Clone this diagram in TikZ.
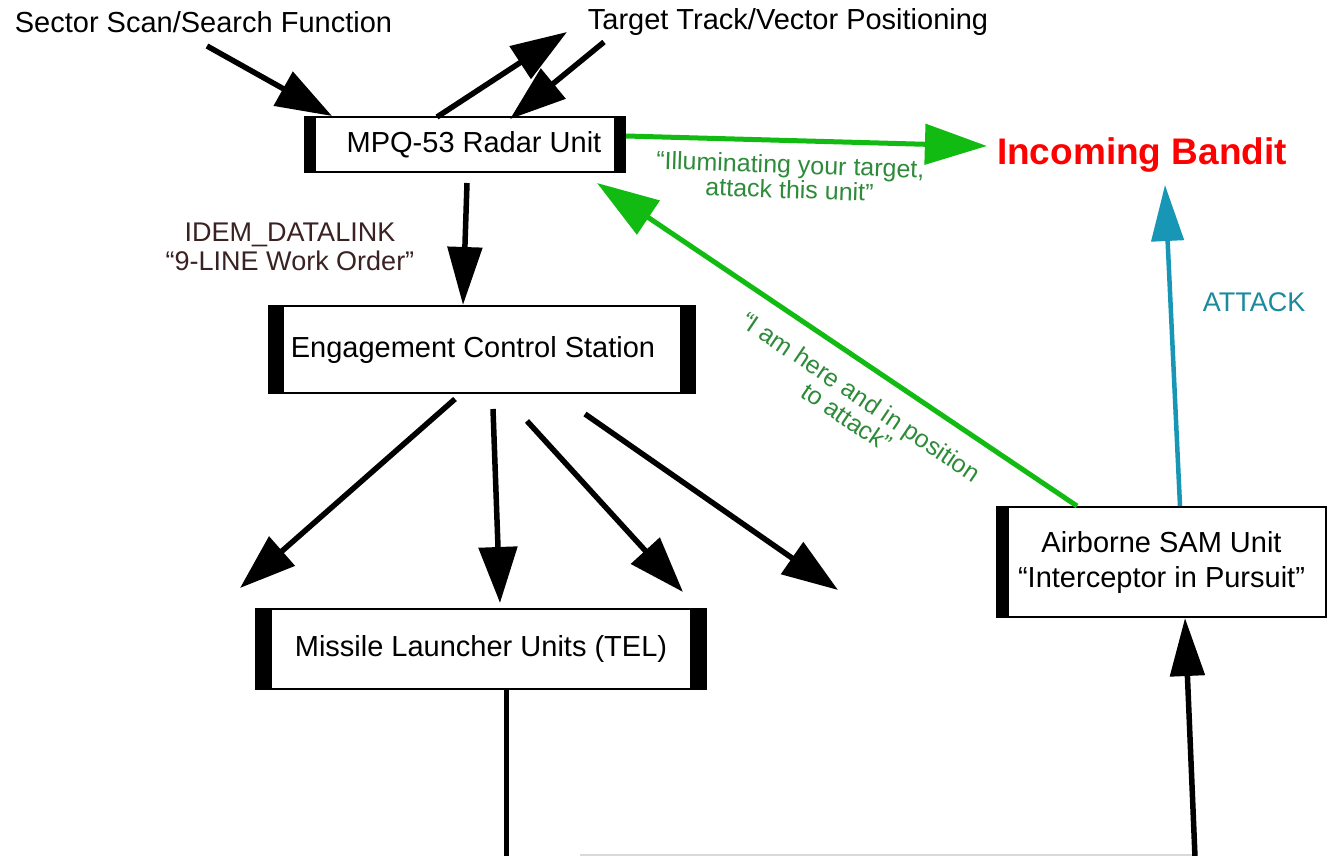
\documentclass[tikz,border=0pt]{standalone}
\usepackage{fontspec}
\setmainfont{Liberation Sans}
\usetikzlibrary{arrows.meta}
\definecolor{arrowgreen}{HTML}{11BB11}
\definecolor{textgreen}{HTML}{2E8B3A}
\definecolor{attackblue}{HTML}{1797B5}
\definecolor{attacktext}{HTML}{1B8A9C}
\definecolor{idembrown}{HTML}{3A2222}
\definecolor{banditred}{HTML}{FF0000}
\begin{document}
\begin{tikzpicture}[x=1pt,y=-1pt,
  lbl/.style={inner sep=0pt, font=\fontsize{29}{35}\selectfont},
  box/.style={draw, line width=2pt, fill=white, inner sep=0pt, align=center, font=\fontsize{29}{35}\selectfont},
  blk/.style={line width=5.5pt, -{Triangle[length=56pt,width=38pt]}},
  blklong/.style={line width=5.5pt, -{Triangle[length=58pt,width=34pt]}},
  grn/.style={arrowgreen, line width=5pt, -{Triangle[length=62pt,width=40pt]}},
  tealarrow/.style={attackblue, line width=4.5pt, -{Triangle[length=56pt,width=32pt]}},
  grnlbl/.style={textgreen, inner sep=0pt, align=center, font=\fontsize{25}{25}\selectfont}
]
\useasboundingbox (0,0) rectangle (1328,856);
\fill[white] (0,0) rectangle (1328,856);

% boxes
\node[box, minimum width=320pt, minimum height=55pt] (radar) at (465,144.5) {\hspace*{18pt}MPQ-53 Radar Unit};
\node[box, minimum width=426pt, minimum height=87pt] (ecs) at (482,349.5) {Engagement Control Station\hspace*{18pt}};
\node[box, minimum width=450pt, minimum height=80pt] (missile) at (481,649) {\raisebox{7pt}{Missile Launcher Units (TEL)}};
\node[box, minimum width=329pt, minimum height=110pt] (air) at (1161.5,562) {Airborne SAM Unit\\“Interceptor in Pursuit”};

% thick side bars
\fill (radar.north west) rectangle ([xshift=12pt]radar.south west);
\fill (radar.north east) rectangle ([xshift=-12pt]radar.south east);
\fill (ecs.north west) rectangle ([xshift=16pt]ecs.south west);
\fill (ecs.north east) rectangle ([xshift=-16pt]ecs.south east);
\fill (missile.north west) rectangle ([xshift=17pt]missile.south west);
\fill (missile.north east) rectangle ([xshift=-17pt]missile.south east);
\fill (air.north west) rectangle ([xshift=13pt]air.south west);

% labels
\node[lbl] (sector) at (203.5,22) {Sector Scan/Search Function};
\node[lbl] (target) at (788,22) {Target Track/Vector Positioning};
\node[inner sep=0pt, text=banditred, font=\fontsize{37}{40}\selectfont\bfseries] (bandit) at (1142,155) {Incoming Bandit};
\node[inner sep=0pt, text=idembrown, align=center, font=\fontsize{27}{29}\selectfont] (idem) at (290,247) {IDEM\_DATALINK\\“9-LINE Work Order”};
\node[grnlbl, rotate=-2] (illum) at (790,177) {“Illuminating your target,\\attack this unit”};
\node[grnlbl, rotate=-34] (here) at (854,407) {“I am here and in position\\to attack”};
\node[inner sep=0pt, text=attacktext, font=\fontsize{27}{30}\selectfont] (attack) at (1254,302) {ATTACK};

% free ends
\coordinate (sstart) at (207,46);
\coordinate (tend) at (567,32);
\coordinate (tstart) at (604,42);
\coordinate (f1) at (240,588);
\coordinate (f2) at (500,603);
\coordinate (f3) at (683,592);
\coordinate (f4) at (838,590);
\coordinate (mbot) at (506,857);
\coordinate (abot) at (1195,857);
\coordinate (gl) at (580,855);
\coordinate (gr) at (1192,855);
\coordinate (gtip) at (597,183);
\coordinate (ttip) at (1165,185);

% top arrows
\draw[blk] (sstart) -- ([xshift=28pt]radar.north west);
\draw[blk] ([xshift=-28pt,yshift=-1pt]radar.north) -- (tend);
\draw[blk] (tstart) -- ([xshift=45pt,yshift=-3pt]radar.north);

% radar to ECS
\draw[blklong] ([xshift=2pt,yshift=-10pt]radar.south) -- ([xshift=-19pt]ecs.north);

% ECS fan
\draw[blk] ([xshift=-27pt,yshift=-5pt]ecs.south) -- (f1);
\draw[blk] ([xshift=11pt,yshift=-15pt]ecs.south) -- (f2);
\draw[blk] ([xshift=45pt,yshift=-27pt]ecs.south) -- (f3);
\draw[blk] ([xshift=103pt,yshift=-20pt]ecs.south) -- (f4);

% bottom loop
\draw[line width=5pt] ([xshift=25pt]missile.south) -- (mbot);
\draw[gray!30, line width=1.5pt] (gl) -- (gr);
\draw[blklong] (abot) -- ([xshift=23.5pt]air.south);

% green arrows
\draw[grn] ([yshift=8.5pt]radar.east) -- ([xshift=-10pt,yshift=9pt]bandit.west);
\draw[grn] ([xshift=-84.5pt]air.north) -- (gtip);

% attack arrow
\draw[tealarrow] ([xshift=18.5pt]air.north) -- (ttip);
\end{tikzpicture}
\end{document}
